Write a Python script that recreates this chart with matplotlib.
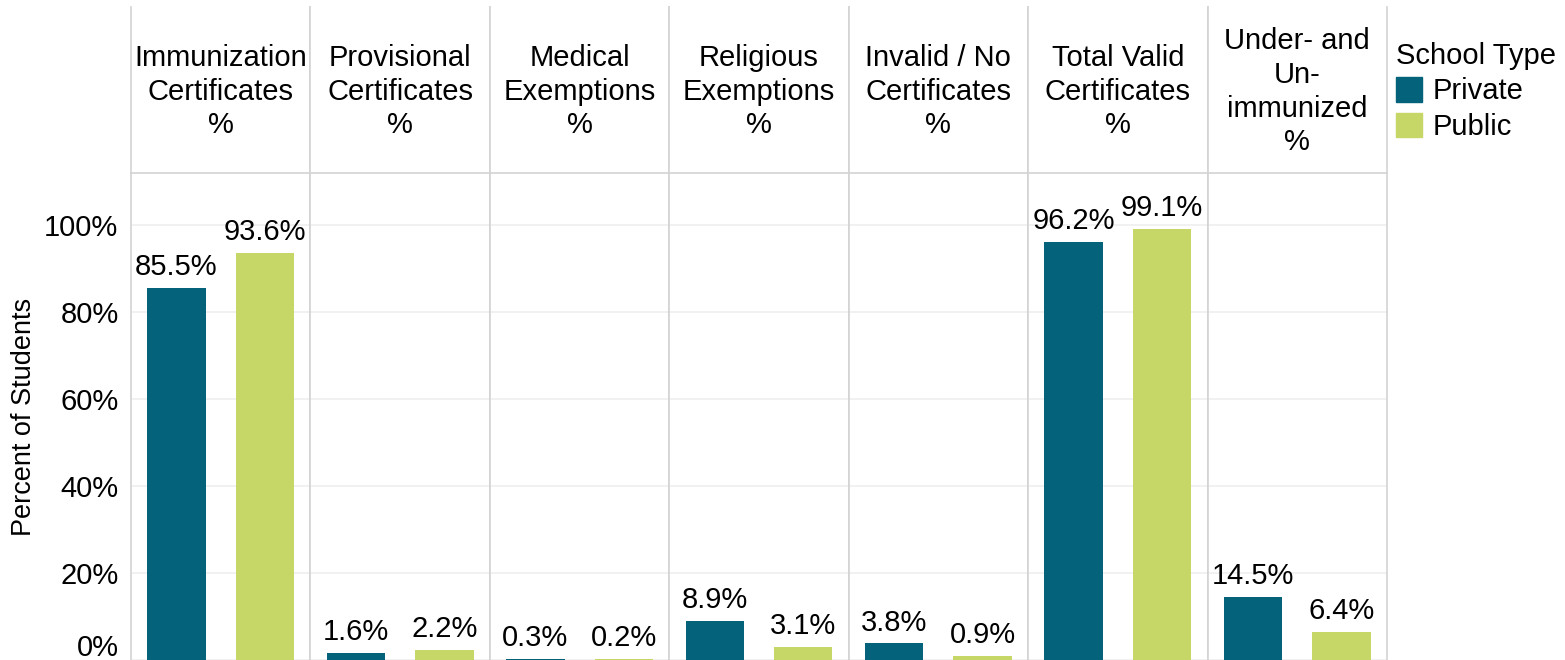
import matplotlib.pyplot as plt
from matplotlib.patches import Patch
from matplotlib.transforms import ScaledTranslation

plt.rcParams['font.family'] = ['Liberation Sans', 'DejaVu Sans']

categories = ["Immunization\nCertificates\n%", "Provisional\nCertificates\n%",
              "Medical\nExemptions\n%", "Religious\nExemptions\n%",
              "Invalid / No\nCertificates\n%", "Total Valid\nCertificates\n%",
              "Under- and\nUn-\nimmunized\n%"]
private = [85.5, 1.6, 0.3, 8.9, 3.8, 96.2, 14.5]
public = [93.6, 2.2, 0.2, 3.1, 0.9, 99.1, 6.4]
school_types = ["Private", "Public"]
colors = ["#04627a", "#c6d767"]
yticks = [0, 20, 40, 60, 80, 100]

W, H = 1565, 660
fig = plt.figure(figsize=(W / 100, H / 100), dpi=100)

fs = 21
line_c = "#d3d3d3"
left0 = 131
pw = (1387 - 131) / 7
header_top = 7
header_bot = 173

for i, cat in enumerate(categories):
    x0 = left0 + i * pw
    ax = fig.add_axes([x0 / W, 0, pw / W, (H - header_bot) / H])
    vals = [private[i], public[i]]
    ax.bar([0, 1], vals, width=0.66, color=colors, zorder=3)
    for x, v in zip([0, 1], vals):
        ax.annotate(f"{v:.1f}%", (x, v), xytext=(0, 5), textcoords="offset points",
                    ha="center", va="bottom", fontsize=fs, zorder=4)
    ax.set_xlim(-0.515, 1.515)
    ax.set_ylim(0.75, 112)
    ax.set_xticks([])
    ax.set_yticks(yticks)
    ax.grid(axis="y", color="#efefef", linewidth=1.2, zorder=0)
    ax.tick_params(axis="y", length=0, pad=9, labelsize=fs)
    if i == 0:
        ax.set_yticklabels([f"{t}%" for t in yticks])
        ax.set_ylabel("Percent of Students", fontsize=19.5, labelpad=5)
        # keep the 0% label inside the picture, as in the reference
        lab0 = ax.get_yticklabels()[0]
        lab0.set_transform(lab0.get_transform() + ScaledTranslation(0, 15 / 100, fig.dpi_scale_trans))
    else:
        ax.set_yticklabels([])
    for s in ["top", "bottom"]:
        ax.spines[s].set_visible(False)
    for s in ["left", "right"]:
        ax.spines[s].set_color(line_c)
        ax.spines[s].set_linewidth(1.2)

    hx = fig.add_axes([x0 / W, (H - header_bot) / H, pw / W, (header_bot - header_top) / H])
    hx.set_xticks([])
    hx.set_yticks([])
    hx.spines["top"].set_visible(False)
    for s in ["left", "right", "bottom"]:
        hx.spines[s].set_color(line_c)
        hx.spines[s].set_linewidth(1.2)
    hx.text(0.5, 0.49, cat, ha="center", va="center", fontsize=fs,
            linespacing=1.26, transform=hx.transAxes)

handles = [Patch(color=c, label=l) for c, l in zip(colors, school_types)]
fig.legend(handles=handles, title="School Type", loc="upper left",
           bbox_to_anchor=(1396 / W, 1 - 42 / H), frameon=False,
           fontsize=fs, title_fontsize=fs, handlelength=0.9, handleheight=0.9,
           handletextpad=0.35, labelspacing=0.25, borderpad=0, borderaxespad=0,
           alignment="left")

fig.savefig("out.png", dpi=100)
